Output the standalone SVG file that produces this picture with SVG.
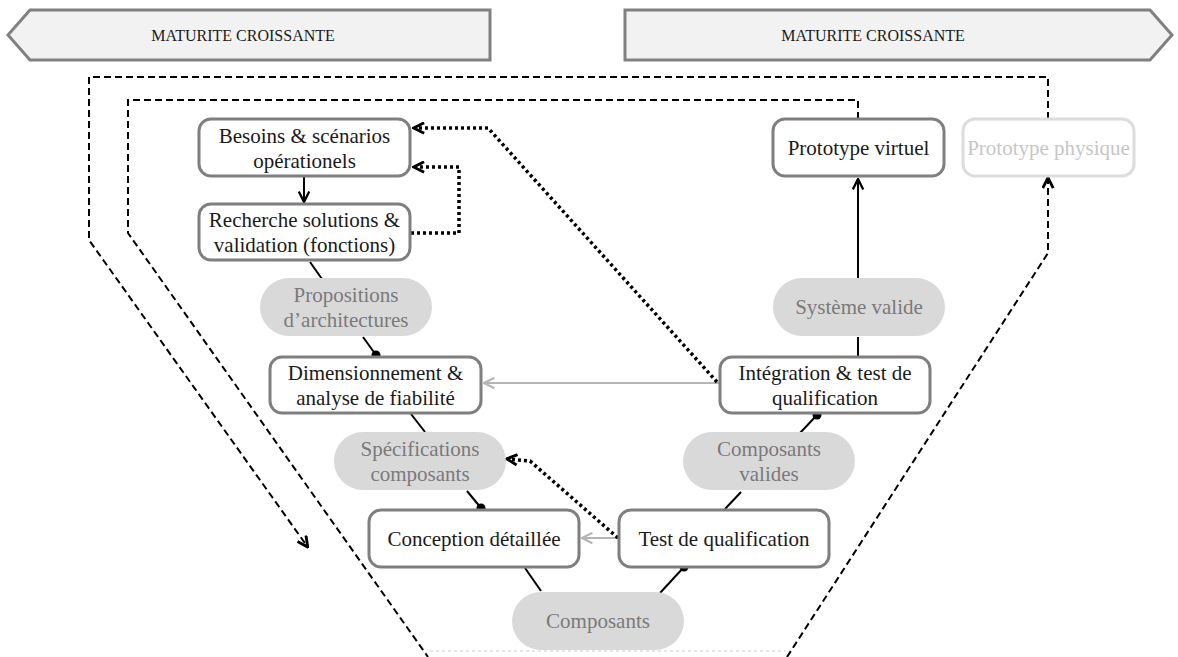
<svg xmlns="http://www.w3.org/2000/svg" width="1178" height="657" viewBox="0 0 1178 657">
<defs>
<style>
.box{fill:#fff;stroke:#7f7f7f;stroke-width:3}
.boxl{fill:#fff;stroke:#dcdcdc;stroke-width:3}
.pill{fill:#d9d9d9;stroke:none}
.t{font-family:"Liberation Serif","Times New Roman",serif;font-size:21px;fill:#1a1a1a;text-anchor:middle}
.tp{font-family:"Liberation Serif","Times New Roman",serif;font-size:21px;fill:#7a7a7a;text-anchor:middle}
.tl{font-family:"Liberation Serif","Times New Roman",serif;font-size:21px;fill:#c6c6c6;text-anchor:middle}
.tb{font-family:"Liberation Serif","Times New Roman",serif;font-size:16px;fill:#1a1a1a;text-anchor:middle}
.banner{fill:#f2f2f2;stroke:#808080;stroke-width:3}
.solid{fill:none;stroke:#000;stroke-width:2}
.grey{fill:none;stroke:#b5b5b5;stroke-width:2}
.dotted{fill:none;stroke:#000;stroke-width:3.5;stroke-dasharray:3 3}
.dashed{fill:none;stroke:#000;stroke-width:2;stroke-dasharray:7 4}
.faint{fill:none;stroke:#e6e6e6;stroke-width:2;stroke-dasharray:3 3}
</style>
<marker id="ah" viewBox="0 0 10 10" refX="9" refY="5" markerWidth="13" markerHeight="13" markerUnits="userSpaceOnUse" orient="auto">
<path d="M1,1 L9,5 L1,9" fill="none" stroke="#000" stroke-width="1.8"/>
</marker>
<marker id="ahg" viewBox="0 0 10 10" refX="9" refY="5" markerWidth="13" markerHeight="13" markerUnits="userSpaceOnUse" orient="auto">
<path d="M1,1 L9,5 L1,9" fill="none" stroke="#b5b5b5" stroke-width="1.6"/>
</marker>
<marker id="ahd" viewBox="0 0 10 10" refX="8" refY="5" markerWidth="13" markerHeight="13" markerUnits="userSpaceOnUse" orient="auto">
<path d="M1,1 L9,5 L1,9" fill="none" stroke="#000" stroke-width="2.2"/>
</marker>
</defs>

<g id="banner-left">
<polygon class="banner" points="30,10 490,10 490,60 30,60 8,35"/>
<text class="tb" x="243" y="41">MATURITE CROISSANTE</text>
</g>
<g id="banner-right">
<polygon class="banner" points="625,10 1150,10 1172,35 1150,60 625,60"/>
<text class="tb" x="873" y="41">MATURITE CROISSANTE</text>
</g>

<g id="connectors">
<path class="dashed" d="M1048,119 V77 H89 V240 L307,546" marker-end="url(#ahd)"/>
<path class="dashed" d="M858,119 V100 H128 V233 L428,657"/>
<path class="dashed" d="M787,657 L1048,253 V179" marker-end="url(#ahd)"/>
<path class="faint" d="M430,651 H786"/>
<line class="solid" x1="304" y1="177" x2="304" y2="202" marker-end="url(#ah)"/>
<line class="solid" x1="310" y1="262" x2="322" y2="279"/>
<line class="solid" x1="363" y1="337" x2="376" y2="355"/>
<circle cx="376" cy="355" r="4.5" fill="#000"/>
<line class="solid" x1="411" y1="414" x2="425" y2="432"/>
<line class="solid" x1="467" y1="491" x2="481" y2="508"/>
<circle cx="481" cy="508" r="4.5" fill="#000"/>
<line class="solid" x1="525" y1="568" x2="541" y2="591"/>
<line class="solid" x1="660" y1="593" x2="684" y2="567"/>
<circle cx="684" cy="567" r="4.5" fill="#000"/>
<line class="solid" x1="725" y1="509" x2="741" y2="492"/>
<line class="solid" x1="800" y1="433" x2="817" y2="415"/>
<circle cx="817" cy="415" r="4.5" fill="#000"/>
<line class="solid" x1="858" y1="356" x2="858" y2="337"/>
<line class="solid" x1="858" y1="278" x2="858" y2="179" marker-end="url(#ah)"/>
<line class="grey" x1="719" y1="383" x2="484" y2="383" marker-end="url(#ahg)"/>
<line class="grey" x1="618" y1="538" x2="582" y2="538" marker-end="url(#ahg)"/>
<path class="dotted" d="M717,382 L488,128 H415" marker-end="url(#ahd)"/>
<path class="dotted" d="M411,233 H459 V167 H415" marker-end="url(#ahd)"/>
<path class="dotted" d="M618,538 L530,461 L508,459" marker-end="url(#ahd)"/>
</g>

<g id="besoins">
<rect class="box" x="199" y="119" width="211" height="57" rx="12"/>
<text class="t" x="304.5" y="143">Besoins &amp; scénarios</text>
<text class="t" x="304.5" y="168">opérationels</text>
</g>
<g id="recherche">
<rect class="box" x="199" y="204" width="211" height="56" rx="12"/>
<text class="t" x="304.5" y="227">Recherche solutions &amp;</text>
<text class="t" x="304.5" y="252">validation (fonctions)</text>
</g>
<g id="propositions">
<rect class="pill" x="260" y="278" width="172" height="58" rx="29"/>
<text class="tp" x="346" y="302">Propositions</text>
<text class="tp" x="346" y="327">d’architectures</text>
</g>
<g id="dimensionnement">
<rect class="box" x="270" y="357" width="211" height="56" rx="12"/>
<text class="t" x="375.5" y="380">Dimensionnement &amp;</text>
<text class="t" x="375.5" y="405">analyse de fiabilité</text>
</g>
<g id="specifications">
<rect class="pill" x="334" y="432" width="172" height="58" rx="29"/>
<text class="tp" x="420" y="456">Spécifications</text>
<text class="tp" x="420" y="481">composants</text>
</g>
<g id="conception">
<rect class="box" x="369" y="510" width="210" height="57" rx="12"/>
<text class="t" x="474" y="545.5">Conception détaillée</text>
</g>
<g id="composants">
<rect class="pill" x="512" y="592" width="172" height="58" rx="29"/>
<text class="tp" x="598" y="628">Composants</text>
</g>
<g id="test">
<rect class="box" x="619" y="510" width="210" height="57" rx="12"/>
<text class="t" x="724" y="545.5">Test de qualification</text>
</g>
<g id="composants-valides">
<rect class="pill" x="683" y="432" width="172" height="58" rx="29"/>
<text class="tp" x="769" y="456">Composants</text>
<text class="tp" x="769" y="481">valides</text>
</g>
<g id="integration">
<rect class="box" x="720" y="357" width="210" height="56" rx="12"/>
<text class="t" x="825" y="380">Intégration &amp; test de</text>
<text class="t" x="825" y="405">qualification</text>
</g>
<g id="systeme">
<rect class="pill" x="773" y="278" width="172" height="58" rx="29"/>
<text class="tp" x="859" y="314">Système valide</text>
</g>
<g id="prototype-virtuel">
<rect class="box" x="773" y="119" width="171" height="57" rx="12"/>
<text class="t" x="858.5" y="155">Prototype virtuel</text>
</g>
<g id="prototype-physique">
<rect class="boxl" x="963" y="119" width="171" height="57" rx="12"/>
<text class="tl" x="1048.5" y="155">Prototype physique</text>
</g>
</svg>
